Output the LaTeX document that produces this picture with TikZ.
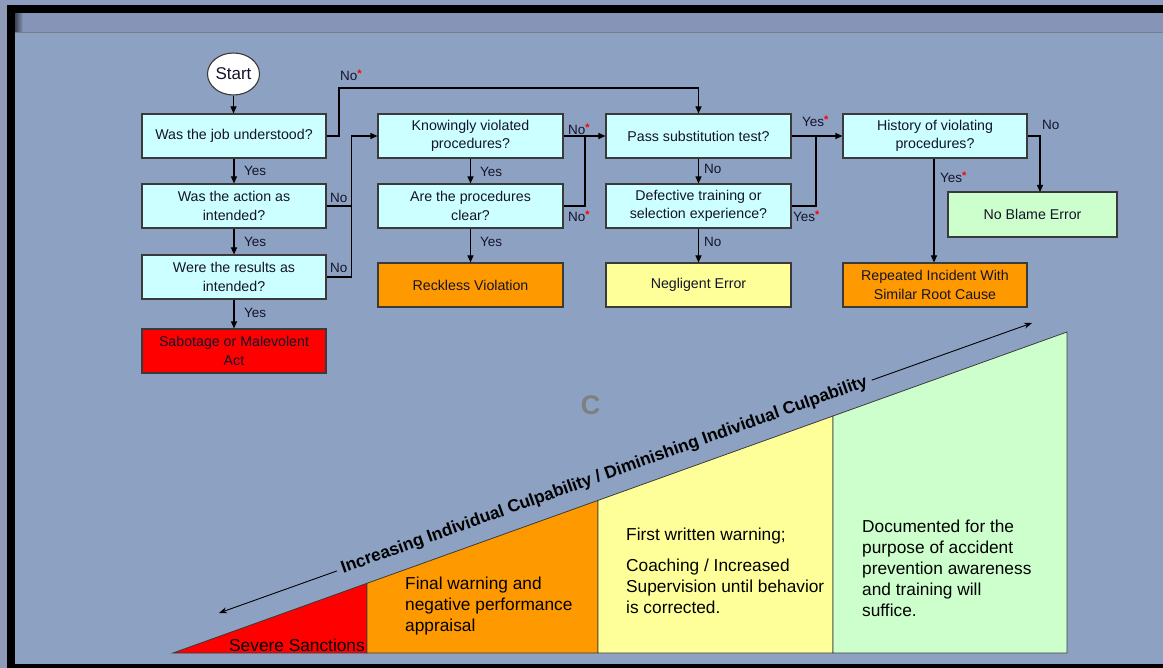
\documentclass[tikz,border=0pt]{standalone}
\usepackage{fontspec}
\setmainfont{Liberation Sans}
\usetikzlibrary{arrows.meta,shapes.geometric}
\definecolor{bgmain}{HTML}{8DA2C3}
\definecolor{bgtop}{HTML}{8C9BBE}
\definecolor{bgleft}{HTML}{8E9AB6}
\definecolor{bghead}{HTML}{8695B7}
\definecolor{headline}{HTML}{767D8E}
\definecolor{boxline}{HTML}{3A3A3A}
\definecolor{qfill}{HTML}{CCFFFF}
\definecolor{redfill}{HTML}{FF0000}
\definecolor{orangefill}{HTML}{FF9900}
\definecolor{yellowfill}{HTML}{FFFF99}
\definecolor{greenfill}{HTML}{CCFFCC}
\definecolor{txt}{HTML}{14142A}
\definecolor{cgray}{HTML}{7F7F7F}
\newcommand{\redast}{\raisebox{3pt}{\textcolor{red}{\fontsize{11}{11}\selectfont\bfseries *}}}
\begin{document}
\begin{tikzpicture}[x=1pt,y=-1pt,
  qbox/.style={draw=boxline, line width=1.1pt, fill=qfill, minimum width=184pt, minimum height=44pt, inner sep=0pt, align=center, text=txt, font=\fontsize{14.2}{18.5}\selectfont},
  conn/.style={draw=black, line width=1.1pt, -{Triangle[length=7pt,width=6pt]}},
  seg/.style={draw=black, line width=1.1pt},
  lbl/.style={inner sep=0pt, anchor=west, text=txt, font=\fontsize{13.5}{16}\selectfont},
  wedge/.style={draw=boxline, line width=0.8pt},
  wtext/.style={inner sep=0pt, align=left, text=black, font=\fontsize{17.3}{21}\selectfont}
]
\useasboundingbox (0,0) rectangle (1163,668);
% background
\fill[bgtop] (0,0) rectangle (1163,5);
\fill[bgleft] (0,0) rectangle (7,668);
\fill[bgmain] (15,33) rectangle (1163,664);
\fill[bghead] (15,13) rectangle (1163,33);
\fill[left color=black!55!bghead, right color=bghead] (15,13) rectangle (23,33);
\draw[headline, line width=1pt] (15,33) -- (1163,33);
\fill[black] (7,5) rectangle (1163,13);
\fill[black] (7,5) rectangle (15,668);
\fill[black] (7,664) rectangle (1163,668);

% flowchart nodes
\node[ellipse, draw=boxline, line width=1.1pt, fill=white, minimum width=52pt, minimum height=42pt, inner sep=0pt, text=txt, font=\fontsize{17}{20}\selectfont] (start) at (233.5,74) {Start};
\node[qbox] (q1) at (234,136) {Was the job understood?};
\node[qbox] (q2) at (234,206) {Was the action as\\intended?};
\node[qbox] (q3) at (234,277) {Were the results as\\intended?};
\node[qbox, fill=redfill] (sab) at (234,351) {Sabotage or Malevolent\\Act};
\node[qbox, minimum width=185pt] (kv) at (470.5,136) {Knowingly violated\\procedures?};
\node[qbox, minimum width=185pt] (ap) at (470.5,206) {Are the procedures\\clear?};
\node[qbox, minimum width=185pt, fill=orangefill] (rv) at (470.5,285) {Reckless Violation};
\node[qbox, minimum width=185pt] (ps) at (698.5,136) {Pass substitution test?};
\node[qbox, minimum width=185pt] (dt) at (698.5,206) {Defective training or\\selection experience?};
\node[qbox, minimum width=185pt, fill=yellowfill] (ne) at (698.5,285) {Negligent Error};
\node[qbox] (hv) at (935,136) {History of violating\\procedures?};
\node[qbox, minimum width=169pt, minimum height=45pt, fill=greenfill] (nb) at (1032.5,214.5) {No Blame Error};
\node[qbox, fill=orangefill] (ri) at (935,285) {Repeated Incident With\\Similar Root Cause};

% junction coordinates
\coordinate (jA) at (339,88);
\coordinate (jB) at (351.5,136);
\coordinate (jC) at (585,136);
\coordinate (jD) at (816,136);
\coordinate (jE) at (1040,192);

% connectors
\draw[conn] (start) -- (q1.north -| start);
\draw[conn] (q1) -- (q2);
\draw[conn] (q2) -- (q3);
\draw[conn] (q3) -- (sab);
\draw[conn] (q1.east) -| (jA) -| (ps.north);
\draw[conn] (q2.east) -| (jB) -- (kv.west);
\draw[seg] (q3.east) -| (jB);
\draw[conn] (kv) -- (ap);
\draw[conn] (ap) -- (rv);
\draw[conn] (kv.east) -- (ps.west);
\draw[seg] (ap.east) -| (jC);
\draw[conn] (ps) -- (dt);
\draw[conn] (dt) -- (ne);
\draw[conn] (ps.east) -- (hv.west);
\draw[seg] (dt.east) -| (jD);
\draw[conn] (hv.east) -| (jE);
\draw[conn] ([xshift=-1pt]hv.south) -- ([xshift=-1pt]ri.north);

% labels
\node[lbl] at (244,171) {Yes};
\node[lbl] at (244,242) {Yes};
\node[lbl] at (244,313) {Yes};
\node[lbl] at (340,75) {No\redast};
\node[lbl] at (330,198) {No};
\node[lbl] at (330,268) {No};
\node[lbl] at (480,172) {Yes};
\node[lbl] at (480,242) {Yes};
\node[lbl] at (568,129) {No\redast};
\node[lbl] at (568,216) {No\redast};
\node[lbl] at (704,169) {No};
\node[lbl] at (704,242) {No};
\node[lbl] at (802,121) {Yes\redast};
\node[lbl] at (793,216) {Yes\redast};
\node[lbl] at (1042,125) {No};
\node[lbl] at (940,177) {Yes\redast};

% C
\node[inner sep=0pt, text=cgray, font=\fontsize{27}{30}\bfseries] (c) at (590.5,405) {C};

% wedge
\filldraw[wedge, fill=redfill] (173,653) -- (367,583.3) -- (367,653) -- cycle;
\filldraw[wedge, fill=orangefill] (367,583.3) -- (598,500.4) -- (598,653) -- (367,653) -- cycle;
\filldraw[wedge, fill=yellowfill] (598,500.4) -- (833,416) -- (833,653) -- (598,653) -- cycle;
\filldraw[wedge, fill=greenfill] (833,416) -- (1067,332) -- (1067,653) -- (833,653) -- cycle;

% text nodes anchored at the baseline of their last line
\node[wtext, anchor=base west] (w1) at (229,651) {Severe Sanctions};
\node[wtext, anchor=base west] (w2) at (405,631) {Final warning and\\negative performance\\appraisal};
\node[wtext, anchor=base west] (w3) at (626,540) {First written warning;};
\node[wtext, anchor=base west] (w4) at (626,613) {Coaching / Increased\\Supervision until behavior\\is corrected.};
\node[wtext, anchor=base west] (w5) at (862,616) {Documented for the\\purpose of accident\\prevention awareness\\and training will\\suffice.};

% culpability arrow
\coordinate (aL) at (219,613);
\coordinate (aR) at (1032,323);
\draw[line width=0.9pt, {Stealth[length=8pt,width=6pt]}-{Stealth[length=8pt,width=6pt]}] (aL) -- (aR)
  node[pos=0.474, fill=bgmain, inner sep=5pt, rotate=19.63, text=black, font=\fontsize{17.3}{20}\bfseries] (cul) {Increasing Individual Culpability / Diminishing Individual Culpability};
\end{tikzpicture}
\end{document}
